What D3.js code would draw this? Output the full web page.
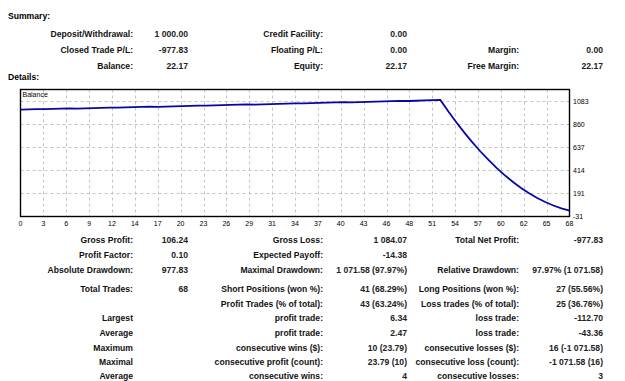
<!DOCTYPE html>
<html>
<head>
<meta charset="utf-8">
<script src="https://cdn.jsdelivr.net/npm/d3@7"></script>
<style>
  body { margin: 0; background: #fff; }
  svg text { font-family: "Liberation Sans", Arial, sans-serif; }
</style>
</head>
<body>
<div id="chart"></div>
<script>
var width = 625,
    height = 381;

// balance after each closed trade (0 = initial deposit)
var balance = [
  1000.00, 1002.41, 1004.87, 1003.52, 1006.10, 1008.55, 1010.93, 1009.71, 1012.20, 1014.68,
  1017.02, 1019.53, 1018.21, 1020.66, 1023.05, 1025.49, 1027.98, 1026.55, 1029.01, 1031.44,
  1033.90, 1036.37, 1038.80, 1037.41, 1039.83, 1042.30, 1044.71, 1047.20, 1049.62, 1048.30,
  1050.74, 1053.19, 1055.63, 1058.05, 1060.52, 1059.11, 1061.57, 1064.02, 1066.49, 1068.90,
  1071.35, 1069.98, 1072.44, 1074.86, 1077.30, 1079.77, 1082.16, 1084.63, 1083.20, 1085.64,
  1088.10, 1090.55, 1093.75, 981.05, 874.55, 773.95, 679.65, 591.25, 509.15, 432.85,
  362.85, 299.05, 241.15, 189.55, 143.85, 104.45, 70.95, 43.75, 22.17
];

var xTickLabels = ["0","3","6","9","12","14","17","20","23","26","29","31","34","37",
                   "40","43","46","48","51","54","57","60","62","65","68"];
var yTickValues = [-31, 191.8, 414.6, 637.4, 860.2, 1083];
var yTickLabels = ["-31","191","414","637","860","1083"];

// summary table: [label, value] per column
var summaryRows = [
  [["Deposit/Withdrawal:", "1 000.00"], ["Credit Facility:", "0.00"], ["", ""]],
  [["Closed Trade P/L:", "-977.83"], ["Floating P/L:", "0.00"], ["Margin:", "0.00"]],
  [["Balance:", "22.17"], ["Equity:", "22.17"], ["Free Margin:", "22.17"]]
];

var detailRows = [
  [["Gross Profit:", "106.24"], ["Gross Loss:", "1 084.07"], ["Total Net Profit:", "-977.83"]],
  [["Profit Factor:", "0.10"], ["Expected Payoff:", "-14.38"], ["", ""]],
  [["Absolute Drawdown:", "977.83"], ["Maximal Drawdown:", "1 071.58 (97.97%)"], ["Relative Drawdown:", "97.97% (1 071.58)"]],
  [["Total Trades:", "68"], ["Short Positions (won %):", "41 (68.29%)"], ["Long Positions (won %):", "27 (55.56%)"]],
  [["", ""], ["Profit Trades (% of total):", "43 (63.24%)"], ["Loss trades (% of total):", "25 (36.76%)"]],
  [["Largest", ""], ["profit trade:", "6.34"], ["loss trade:", "-112.70"]],
  [["Average", ""], ["profit trade:", "2.47"], ["loss trade:", "-43.36"]],
  [["Maximum", ""], ["consecutive wins ($):", "10 (23.79)"], ["consecutive losses ($):", "16 (-1 071.58)"]],
  [["Maximal", ""], ["consecutive profit (count):", "23.79 (10)"], ["consecutive loss (count):", "-1 071.58 (16)"]],
  [["Average", ""], ["consecutive wins:", "4"], ["consecutive losses:", "3"]]
];

var svg = d3.select('#chart').append('svg')
    .attr('width', width)
    .attr('height', height);

svg.append('rect').attr('width', width).attr('height', height).attr('fill', '#fff');

// column anchors (label right edge, value right edge)
var cols = [[133, 188], [323, 407], [519, 603]];
var fontSize = 8.6;

function drawTable(rows, ys) {
  rows.forEach(function(row, r) {
    var y = ys[r] + 3;
    row.forEach(function(cell, c) {
      svg.append('text')
        .attr('x', cols[c][0]).attr('y', y)
        .attr('text-anchor', 'end')
        .attr('font-size', fontSize)
        .attr('font-weight', 'bold')
        .attr('fill', '#111')
        .text(cell[0]);
      svg.append('text')
        .attr('x', cols[c][1]).attr('y', y)
        .attr('text-anchor', 'end')
        .attr('font-size', fontSize)
        .attr('font-weight', 'bold')
        .attr('fill', '#222')
        .text(cell[1]);
    });
  });
}

svg.append('text').attr('x', 8).attr('y', 19).attr('font-size', fontSize)
  .attr('font-weight', 'bold').text('Summary:');
drawTable(summaryRows, [34, 50, 66]);
svg.append('text').attr('x', 8).attr('y', 80).attr('font-size', fontSize)
  .attr('font-weight', 'bold').text('Details:');
drawTable(detailRows, [239.5, 254.5, 270, 288.5, 303.5, 318, 333, 347.5, 361.5, 375.5]);

// chart
var plot = {left: 20.5, right: 569.5, top: 89.5, bottom: 216.5};
var x = d3.scaleLinear().domain([0, balance.length - 1]).range([plot.left, plot.right]);
var y = d3.scaleLinear().domain([-31, 1083]).range([216, 101]);

var g = svg.append('g');
var xTicks = xTickLabels.map(function(d, i) { return i * (balance.length - 1) / (xTickLabels.length - 1); });

// grid
g.selectAll('.vgrid').data(xTicks.slice(1, -1)).enter().append('line')
  .attr('class', 'vgrid')
  .attr('x1', function(d) { return Math.round(x(d)) + 0.5; })
  .attr('x2', function(d) { return Math.round(x(d)) + 0.5; })
  .attr('y1', plot.top).attr('y2', plot.bottom)
  .attr('stroke', '#c4c4c4').attr('stroke-dasharray', '3,3');
g.selectAll('.hgrid').data(yTickValues.slice(1)).enter().append('line')
  .attr('class', 'hgrid')
  .attr('x1', plot.left).attr('x2', plot.right)
  .attr('y1', function(d) { return Math.round(y(d)) + 0.5; })
  .attr('y2', function(d) { return Math.round(y(d)) + 0.5; })
  .attr('stroke', '#c4c4c4').attr('stroke-dasharray', '3,3');

// balance line
var line = d3.line()
  .x(function(d, i) { return x(i); })
  .y(function(d) { return y(d); });
g.append('path').datum(balance)
  .attr('d', line)
  .attr('fill', 'none')
  .attr('stroke', '#0707a8')
  .attr('stroke-width', 1.8);

// frame
g.append('rect')
  .attr('x', plot.left).attr('y', plot.top)
  .attr('width', plot.right - plot.left).attr('height', plot.bottom - plot.top)
  .attr('fill', 'none').attr('stroke', '#000').attr('stroke-width', 1.4);

g.append('text').attr('x', plot.left + 2).attr('y', plot.top + 7.5)
  .attr('font-size', 7).attr('font-family', 'DejaVu Sans').text('Balance');

// axes labels
g.selectAll('.xlab').data(xTicks).enter().append('text')
  .attr('class', 'xlab')
  .attr('x', function(d) { return x(d); })
  .attr('y', 225.5)
  .attr('text-anchor', 'middle')
  .attr('font-size', 7).attr('font-family', 'DejaVu Sans')
  .text(function(d, i) { return xTickLabels[i]; });

g.selectAll('.ylab').data(yTickValues).enter().append('text')
  .attr('class', 'ylab')
  .attr('x', 573)
  .attr('y', function(d) { return y(d) + 2.5; })
  .attr('font-size', 7).attr('font-family', 'DejaVu Sans')
  .text(function(d, i) { return yTickLabels[i]; });
</script>
</body>
</html>
